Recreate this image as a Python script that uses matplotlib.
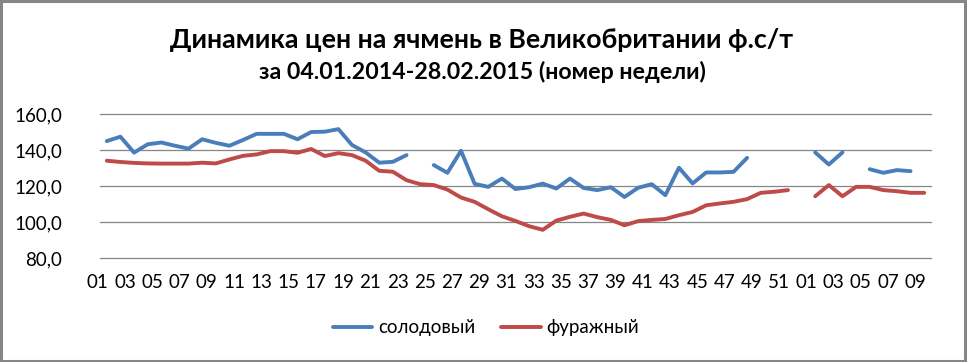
import matplotlib
matplotlib.use("Agg")
import matplotlib.pyplot as plt
import matplotlib.transforms as mtransforms
from matplotlib.patches import Rectangle
from matplotlib.ticker import FuncFormatter
import numpy as np

nan = np.nan

categories = [
    "01", "02", "03", "04", "05", "06", "07", "08", "09", "10",
    "11", "12", "13", "14", "15", "16", "17", "18", "19", "20",
    "21", "22", "23", "24", "25", "26", "27", "28", "29", "30",
    "31", "32", "33", "34", "35", "36", "37", "38", "39", "40",
    "41", "42", "43", "44", "45", "46", "47", "48", "49", "50",
    "51", "52",
    "01", "02", "03", "04", "05", "06", "07", "08", "09",
]

malting = [
    145.0, 147.4, 138.6, 143.2, 144.2, 142.4, 140.8, 146.0, 144.0, 142.4,
    145.6, 149.0, 149.0, 149.0, 146.0, 150.0, 150.2, 151.6, 142.8, 138.7,
    133.0, 133.5, 137.2, nan, 131.7, 127.4, 139.6, 121.3, 119.6, 124.2,
    118.4, 119.4, 121.4, 118.7, 124.2, 119.0, 117.8, 119.4, 114.0, 119.1,
    121.1, 115.0, 130.2, 121.5, 127.6, 127.6, 127.9, 135.7, nan, nan,
    nan, nan,
    138.7, 132.0, 138.7, nan, 129.4, 127.4, 128.9, 128.3, nan,
]

feed = [
    134.1, 133.4, 132.9, 132.6, 132.5, 132.5, 132.5, 133.0, 132.6, 134.8,
    136.8, 137.6, 139.4, 139.4, 138.5, 140.6, 136.7, 138.3, 137.2, 134.1,
    128.5, 128.0, 123.3, 121.1, 120.6, 118.1, 113.7, 111.3, 107.2, 103.3,
    100.7, 97.8, 95.8, 100.9, 103.0, 104.8, 102.8, 101.3, 98.3, 100.6,
    101.3, 101.8, 103.9, 105.7, 109.4, 110.4, 111.3, 112.8, 116.3, 116.9,
    117.8, nan,
    114.4, 120.6, 114.4, 119.6, 119.6, 117.8, 117.2, 116.3, 116.3,
]

series_names = ["солодовый", "фуражный"]
title_line1 = "Динамика цен на ячмень в Великобритании ф.с/т"
title_line2 = "за 04.01.2014-28.02.2015 (номер недели)"
y_ticks = [80, 100, 120, 140, 160]

FONT = ["Lato", "DejaVu Sans"]
plt.rcParams["font.family"] = FONT

DPI = 100
fig = plt.figure(figsize=(9.67, 3.62), dpi=DPI)
W, H = 967, 362
ax = fig.add_axes([100 / W, 1 - 258.3 / H, 831 / W, (258.3 - 114) / H])

x = np.arange(len(categories))
ax.plot(x, malting, color="#4A7EBB", lw=2.8, solid_capstyle="round",
        solid_joinstyle="round", label=series_names[0])
ax.plot(x, feed, color="#BE4B48", lw=2.8, solid_capstyle="round",
        solid_joinstyle="round", label=series_names[1])

ax.set_xlim(-0.5, len(categories) - 0.5)
ax.set_ylim(80, 160)
ax.set_yticks(y_ticks)
ax.yaxis.set_major_formatter(FuncFormatter(lambda v, p: f"{v:.1f}".replace(".", ",")))
ax.set_xticks(x[::2])
ax.set_xticklabels(categories[::2])

ax.grid(axis="y", color="#868686", lw=0.9)
for gl in ax.get_ygridlines():
    gl.set_clip_on(False)
ax.set_axisbelow(True)
for s in ax.spines.values():
    s.set_visible(False)
ax.tick_params(axis="both", length=0, labelsize=13.5, colors="#000000")
ax.tick_params(axis="y", pad=27)
ax.tick_params(axis="x", pad=11)

offset = mtransforms.ScaledTranslation(-9 / DPI, 0, fig.dpi_scale_trans)
for lbl in ax.get_xticklabels():
    lbl.set_transform(lbl.get_transform() + offset)

fig.text(482 / W, 1 - 40 / H, title_line1, ha="center", va="center",
         fontsize=19.3, fontweight="bold")
fig.text(482 / W, 1 - 72 / H, title_line2, ha="center", va="center",
         fontsize=16.7, fontweight="bold")

fig.legend(loc="center", bbox_to_anchor=(486 / W, 1 - 328 / H), ncol=2,
           frameon=False, fontsize=13.5, handlelength=2.1, handletextpad=0.3,
           columnspacing=1.4)

fig.patches.append(Rectangle((0.001, 0.002), 0.997, 0.995, transform=fig.transFigure,
                             fill=False, edgecolor="#868686", lw=2.2))

fig.savefig("out.png", dpi=DPI)
